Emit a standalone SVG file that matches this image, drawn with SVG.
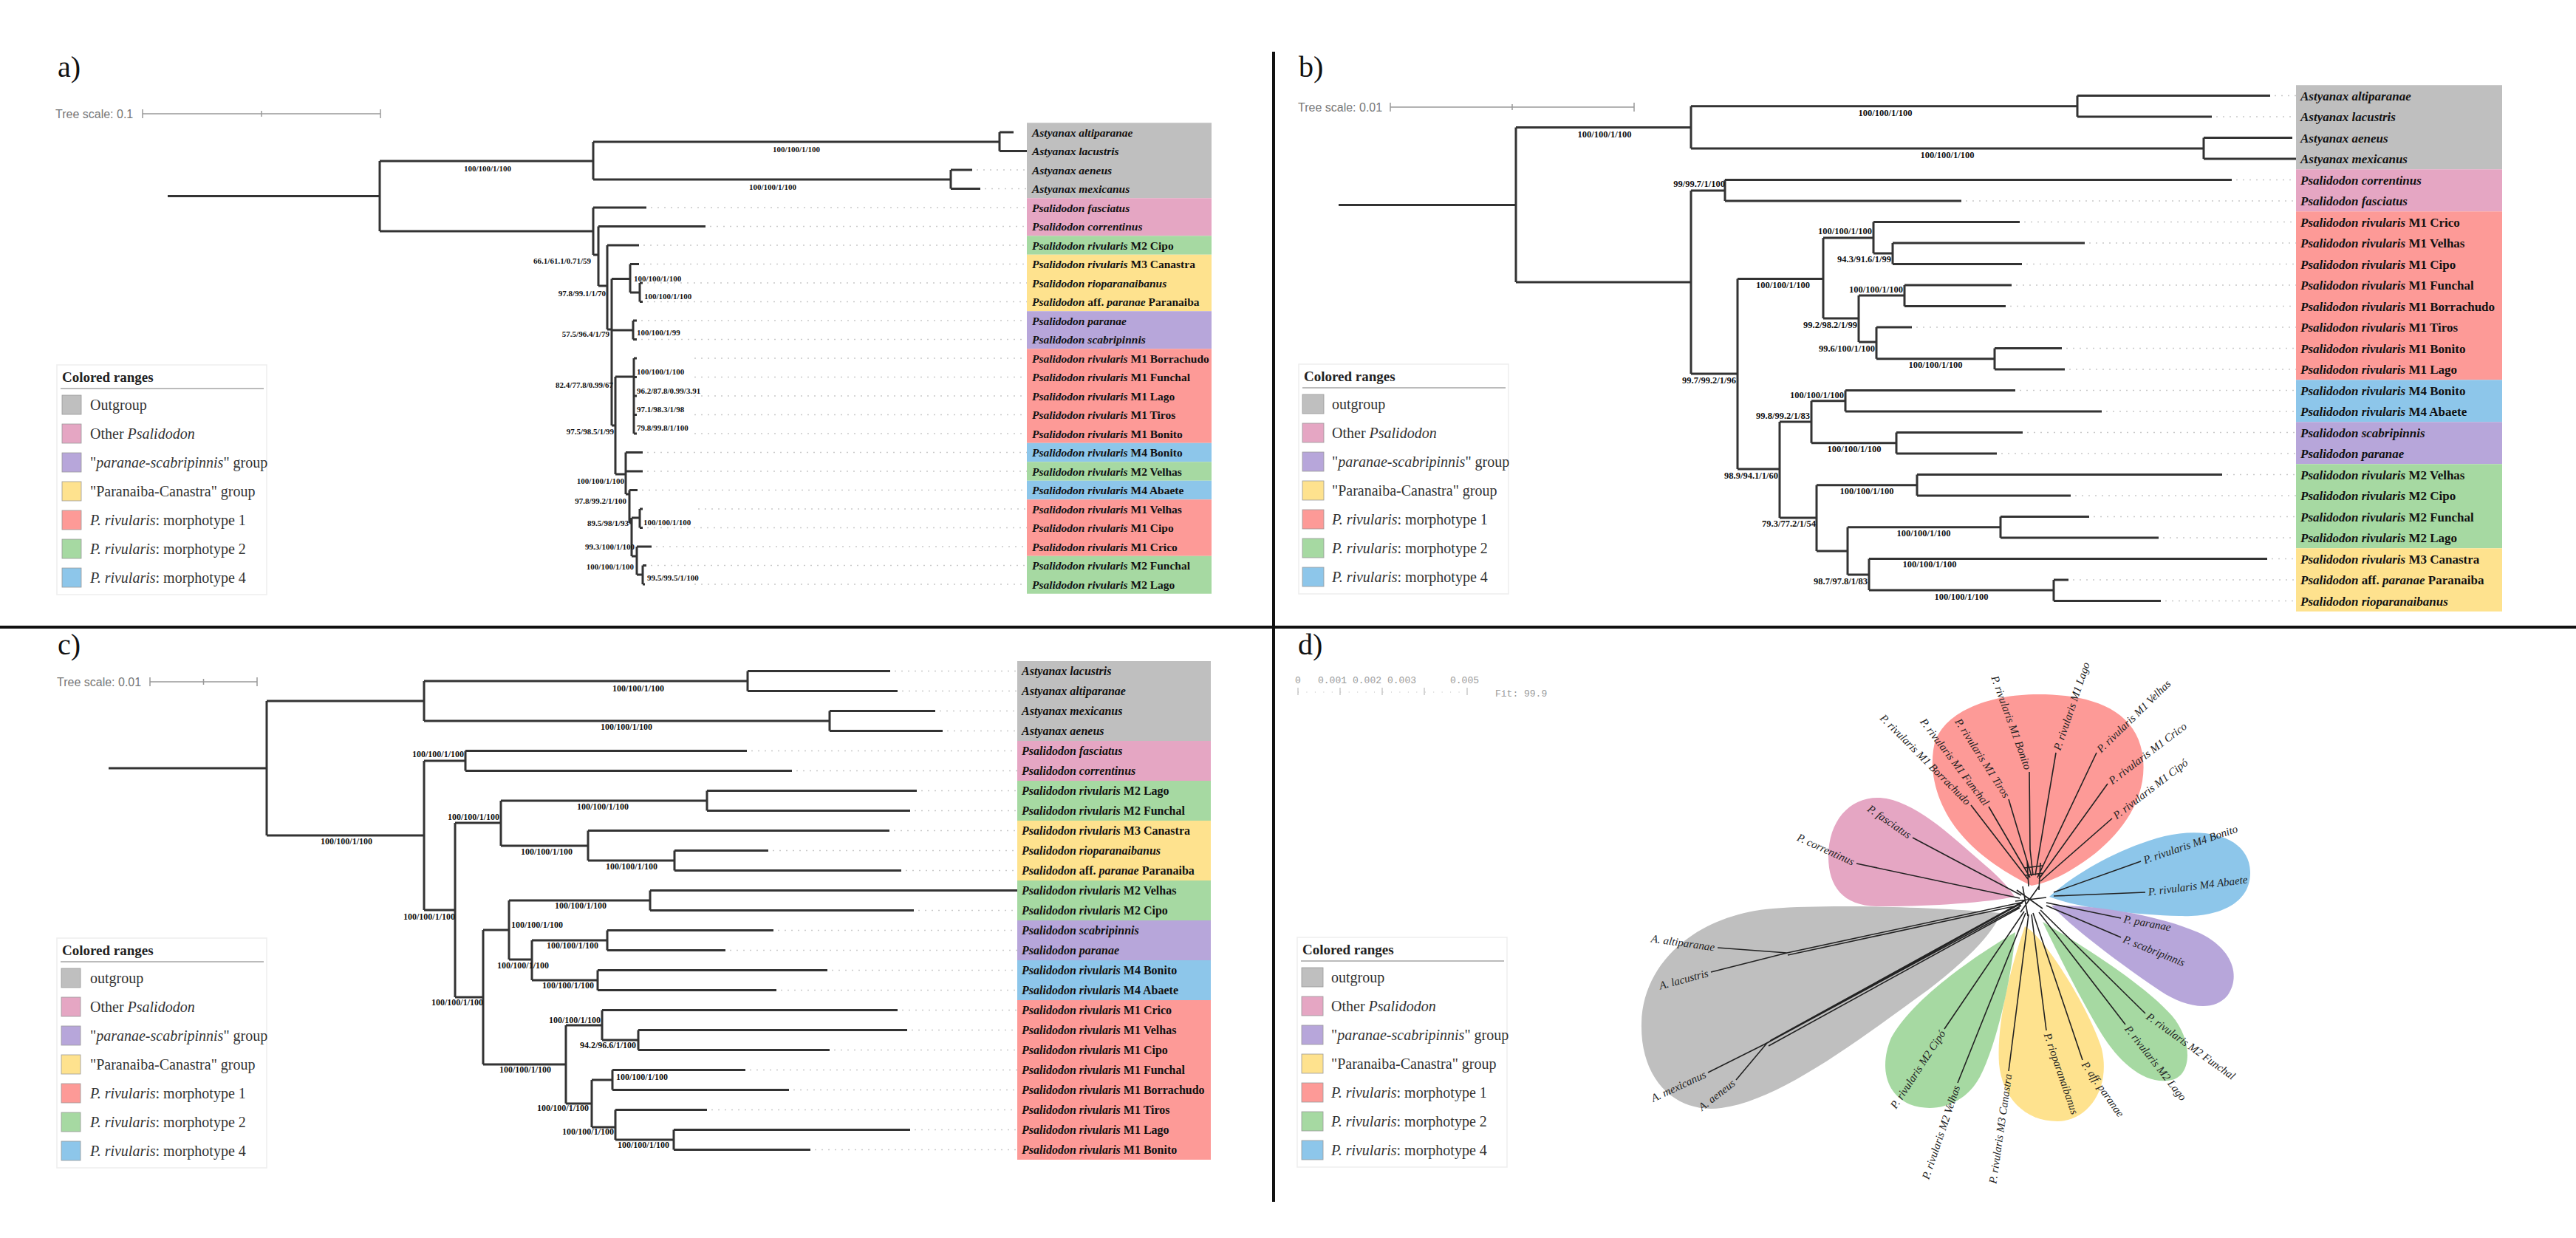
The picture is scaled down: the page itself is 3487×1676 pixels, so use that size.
<svg xmlns="http://www.w3.org/2000/svg" width="3487" height="1676" viewBox="0 0 3487 1676">
<style>
.br{fill:none;stroke:#333;stroke-width:3}
.dt{fill:none;stroke:#c9c9c9;stroke-width:1.5;stroke-dasharray:2 7}
.sp{font-family:"Liberation Serif",serif;font-weight:bold;font-size:11px;fill:#111}
.spb{font-family:"Liberation Serif",serif;font-weight:bold;font-size:12.5px;fill:#111}
.spc{font-family:"Liberation Serif",serif;font-weight:bold;font-size:12px;fill:#111}
.la{font-family:"Liberation Serif",serif;font-weight:bold;font-size:15.5px;fill:#111}
.lb{font-family:"Liberation Serif",serif;font-weight:bold;font-size:17px;fill:#111}
.lc{font-family:"Liberation Serif",serif;font-weight:bold;font-size:16px;fill:#111}
.i{font-style:italic}
.lg{font-family:"Liberation Serif",serif;font-size:20px;fill:#333}
.lgt{font-family:"Liberation Serif",serif;font-weight:bold;font-size:19px;fill:#222}
.lgb{fill:#fff;stroke:#eee;stroke-width:1.5}
.lgl{stroke:#bbb;stroke-width:2}
.sw{stroke:#999;stroke-width:0.8}
.ts{font-family:"Liberation Sans",sans-serif;font-size:16px;fill:#777}
.sb{stroke:#999;stroke-width:1.5;fill:none}
.pl{font-family:"Liberation Serif",serif;font-size:40px;fill:#111}
.dlab{font-family:"Liberation Serif",serif;font-style:italic;font-size:15px;fill:#222}
.dln{stroke:#222;stroke-width:1.6;fill:none}
.mono{font-family:"Liberation Mono",monospace;font-size:13px;fill:#999}
.gy{fill:#bfbfbf}.pk{fill:#e5a6c3}.pu{fill:#b7a6da}.ye{fill:#fee28e}.rd{fill:#fd9a97}.gr{fill:#a6d9a2}.bl{fill:#8dc6ea}
.dv{stroke:#111;stroke-width:4}
</style>

<rect x="0" y="0" width="3487" height="1676" fill="#fff"/>

<!-- ================= PANEL A ================= -->
<g id="panel-a">
<text class="pl" x="78" y="104">a)</text>
<text class="ts" x="75" y="160">Tree scale: 0.1</text>
<path class="sb" d="M193 154H515M193 148V160M354 150V158M515 148V160"/>

<g id="a-ranges">
<rect class="gy" x="1390" y="166.25" width="250" height="102"/>
<rect class="pk" x="1390" y="268.25" width="250" height="51"/>
<rect class="gr" x="1390" y="319.25" width="250" height="25.5"/>
<rect class="ye" x="1390" y="344.75" width="250" height="76.5"/>
<rect class="pu" x="1390" y="421.25" width="250" height="51"/>
<rect class="rd" x="1390" y="472.25" width="250" height="127.5"/>
<rect class="bl" x="1390" y="599.75" width="250" height="25.5"/>
<rect class="gr" x="1390" y="625.25" width="250" height="25.5"/>
<rect class="bl" x="1390" y="650.75" width="250" height="25.5"/>
<rect class="rd" x="1390" y="676.25" width="250" height="76.5"/>
<rect class="gr" x="1390" y="752.75" width="250" height="51"/>
</g>

<g id="a-connectors">
<path class="dt" d="M1322 230H1390M1333 255.5H1390M881 281H1390M961 306.5H1390M871 332H1390M871 357.5H1390M876 383H1390M876 408.5H1390M868 434H1390M868 459.5H1390M940 485H1390M940 510.5H1390M940 536H1390M940 561.5H1390M940 587H1390M876 612.5H1390M876 638H1390M869 663.5H1390M945 689H1390M876 714.5H1390M888 740H1390M881 765.5H1390M940 791H1390"/>
<path class="br" d="M227 265.5H514M514 218V313
M514 218H803M803 192V243M803 192H1353M1353 179V204.5M1353 179H1372M1353 204.5H1390
M803 243H1287M1287 230V255.5M1287 230H1316M1287 255.5H1327
M514 313H803M803 281V345M803 281H875M803 345H810M810 306.5V387M810 306.5H955M810 387H822
M822 332V446M822 332H865M822 446H828M828 377.5V576
M828 377.5H853M853 357.5V396M853 357.5H865M853 396H866M866 383V408.5M866 383H870M866 408.5H870
M828 447H857M857 434V459.5M857 434H862M857 459.5H862
M828 576H833M833 510V642
M833 510H858M858 485V587M858 485H862M858 510.5H862M858 536H862M858 561.5H862M858 587H862
M833 642H847M847 612.5V669M847 612.5H870M847 638H870M847 669H852M852 663.5V708M852 663.5H863M852 708H855
M855 701V753M855 701H866M866 689V714.5M866 689H870M866 714.5H870
M855 753H862M862 740V778M862 740H882M862 778H870M870 765.5V791M870 765.5H875M870 791H873"/>
</g>

<g id="a-support">
<text class="sp" x="660" y="232" text-anchor="middle">100/100/1/100</text>
<text class="sp" x="1078" y="206" text-anchor="middle">100/100/1/100</text>
<text class="sp" x="1046" y="257" text-anchor="middle">100/100/1/100</text>
<text class="sp" x="800" y="357" text-anchor="end">66.1/61.1/0.71/59</text>
<text class="sp" x="820" y="401" text-anchor="end">97.8/99.1/1/70</text>
<text class="sp" x="858" y="381">100/100/1/100</text>
<text class="sp" x="872" y="405">100/100/1/100</text>
<text class="sp" x="825" y="456" text-anchor="end">57.5/96.4/1/79</text>
<text class="sp" x="862" y="454">100/100/1/99</text>
<text class="sp" x="830" y="525" text-anchor="end">82.4/77.8/0.99/67</text>
<text class="sp" x="862" y="507">100/100/1/100</text>
<text class="sp" x="862" y="533">96.2/87.8/0.99/3.91</text>
<text class="sp" x="862" y="558">97.1/98.3/1/98</text>
<text class="sp" x="862" y="583">79.8/99.8/1/100</text>
<text class="sp" x="831" y="588" text-anchor="end">97.5/98.5/1/99</text>
<text class="sp" x="845" y="655" text-anchor="end">100/100/1/100</text>
<text class="sp" x="848" y="682" text-anchor="end">97.8/99.2/1/100</text>
<text class="sp" x="851" y="712" text-anchor="end">89.5/98/1/93</text>
<text class="sp" x="871" y="711">100/100/1/100</text>
<text class="sp" x="859" y="744" text-anchor="end">99.3/100/1/100</text>
<text class="sp" x="858" y="771" text-anchor="end">100/100/1/100</text>
<text class="sp" x="876" y="786">99.5/99.5/1/100</text>
</g>

<g id="a-leaves">
<text class="la" x="1397" y="184.5"><tspan class="i">Astyanax altiparanae</tspan></text>
<text class="la" x="1397" y="210"><tspan class="i">Astyanax lacustris</tspan></text>
<text class="la" x="1397" y="235.5"><tspan class="i">Astyanax aeneus</tspan></text>
<text class="la" x="1397" y="261"><tspan class="i">Astyanax mexicanus</tspan></text>
<text class="la" x="1397" y="286.5"><tspan class="i">Psalidodon fasciatus</tspan></text>
<text class="la" x="1397" y="312"><tspan class="i">Psalidodon correntinus</tspan></text>
<text class="la" x="1397" y="337.5"><tspan class="i">Psalidodon rivularis</tspan> M2 Cipo</text>
<text class="la" x="1397" y="363"><tspan class="i">Psalidodon rivularis</tspan> M3 Canastra</text>
<text class="la" x="1397" y="388.5"><tspan class="i">Psalidodon rioparanaibanus</tspan></text>
<text class="la" x="1397" y="414"><tspan class="i">Psalidodon</tspan> aff. <tspan class="i">paranae</tspan> Paranaiba</text>
<text class="la" x="1397" y="439.5"><tspan class="i">Psalidodon paranae</tspan></text>
<text class="la" x="1397" y="465"><tspan class="i">Psalidodon scabripinnis</tspan></text>
<text class="la" x="1397" y="490.5"><tspan class="i">Psalidodon rivularis</tspan> M1 Borrachudo</text>
<text class="la" x="1397" y="516"><tspan class="i">Psalidodon rivularis</tspan> M1 Funchal</text>
<text class="la" x="1397" y="541.5"><tspan class="i">Psalidodon rivularis</tspan> M1 Lago</text>
<text class="la" x="1397" y="567"><tspan class="i">Psalidodon rivularis</tspan> M1 Tiros</text>
<text class="la" x="1397" y="592.5"><tspan class="i">Psalidodon rivularis</tspan> M1 Bonito</text>
<text class="la" x="1397" y="618"><tspan class="i">Psalidodon rivularis</tspan> M4 Bonito</text>
<text class="la" x="1397" y="643.5"><tspan class="i">Psalidodon rivularis</tspan> M2 Velhas</text>
<text class="la" x="1397" y="669"><tspan class="i">Psalidodon rivularis</tspan> M4 Abaete</text>
<text class="la" x="1397" y="694.5"><tspan class="i">Psalidodon rivularis</tspan> M1 Velhas</text>
<text class="la" x="1397" y="720"><tspan class="i">Psalidodon rivularis</tspan> M1 Cipo</text>
<text class="la" x="1397" y="745.5"><tspan class="i">Psalidodon rivularis</tspan> M1 Crico</text>
<text class="la" x="1397" y="771"><tspan class="i">Psalidodon rivularis</tspan> M2 Funchal</text>
<text class="la" x="1397" y="796.5"><tspan class="i">Psalidodon rivularis</tspan> M2 Lago</text>
</g>

<g id="a-legend" transform="translate(77,494)">
<rect class="lgb" x="0" y="0" width="284" height="311"/>
<text class="lgt" x="7" y="23">Colored ranges</text>
<line class="lgl" x1="5" y1="32" x2="280" y2="32"/>
<rect class="gy sw" x="7" y="41" width="26" height="26"/><text class="lg" x="45" y="61">Outgroup</text>
<rect class="pk sw" x="7" y="80" width="26" height="26"/><text class="lg" x="45" y="100">Other <tspan class="i">Psalidodon</tspan></text>
<rect class="pu sw" x="7" y="119" width="26" height="26"/><text class="lg" x="45" y="139">"<tspan class="i">paranae-scabripinnis</tspan>" group</text>
<rect class="ye sw" x="7" y="158" width="26" height="26"/><text class="lg" x="45" y="178">"Paranaiba-Canastra" group</text>
<rect class="rd sw" x="7" y="197" width="26" height="26"/><text class="lg" x="45" y="217"><tspan class="i">P. rivularis</tspan>: morphotype 1</text>
<rect class="gr sw" x="7" y="236" width="26" height="26"/><text class="lg" x="45" y="256"><tspan class="i">P. rivularis</tspan>: morphotype 2</text>
<rect class="bl sw" x="7" y="275" width="26" height="26"/><text class="lg" x="45" y="295"><tspan class="i">P. rivularis</tspan>: morphotype 4</text>
</g>
</g>

<!-- ================= PANEL B ================= -->
<g id="panel-b">
<text class="pl" x="1758" y="104">b)</text>
<text class="ts" x="1757" y="151">Tree scale: 0.01</text>
<path class="sb" d="M1882 145H2212M1882 139V151M2047 141V149M2212 139V151"/>

<g id="b-ranges">
<rect class="gy" x="3108" y="115.25" width="279" height="114"/>
<rect class="pk" x="3108" y="229.25" width="279" height="57"/>
<rect class="rd" x="3108" y="286.25" width="279" height="228"/>
<rect class="bl" x="3108" y="514.25" width="279" height="57"/>
<rect class="pu" x="3108" y="571.25" width="279" height="57"/>
<rect class="gr" x="3108" y="628.25" width="279" height="114"/>
<rect class="ye" x="3108" y="742.25" width="279" height="85.5"/>
</g>

<g id="b-connectors">
<path class="dt" d="M3079 129.5H3108M3000 158H3108M3027 243.5H3108M2661 272H3108M2740 300.5H3108M2828 329H3108M2743 357.5H3108M2729 386H3108M2721 414.5H3108M2594 443H3108M2797 471.5H3108M2801 500H3108M2734 528.5H3108M2851 557H3108M2744 585.5H3108M2709 614H3108M3014 642.5H3108M2809 671H3108M2834 699.5H3108M2928 728H3108M3075 756.5H3108M2806 785H3108M2931 813.5H3108"/>
<path class="br" d="M1812 277.5H2052M2052 172.5V382
M2052 172.5H2289M2289 143.8V201M2289 143.8H2812M2812 129.5V158M2812 129.5H3073M2812 158H2994
M2289 201H2983M2983 186.5V215M2983 186.5H3103M2983 215H3108
M2052 382H2289M2289 258V506
M2289 258H2335M2335 243.5V272M2335 243.5H3021M2335 272H2655
M2289 506H2352M2352 377.6V635
M2352 377.6H2468M2468 322V431
M2468 322H2536M2536 300.5V343M2536 300.5H2734M2536 343H2562M2562 329V357.5M2562 329H2822M2562 357.5H2737
M2468 431H2516M2516 400V463
M2516 400H2578M2578 386V414.5M2578 386H2723M2578 414.5H2715
M2516 463H2540M2540 443V485.75M2540 443H2588M2540 485.75H2700M2700 471.5V500M2700 471.5H2791M2700 500H2795
M2352 635H2409M2409 571V701
M2409 571H2452M2452 542.75V599.75
M2452 542.75H2498M2498 528.5V557M2498 528.5H2728M2498 557H2845
M2452 599.75H2567M2567 585.5V614M2567 585.5H2738M2567 614H2703
M2409 701H2459M2459 656.75V746
M2459 656.75H2595M2595 642.5V671M2595 642.5H3008M2595 671H2803
M2459 746H2501M2501 713.75V778
M2501 713.75H2708M2708 699.5V728M2708 699.5H2828M2708 728H2922
M2501 778H2530M2530 756.5V799M2530 756.5H3069M2530 799H2780M2780 785V813.5M2780 785H2800M2780 813.5H2925"/>
</g>

<g id="b-support">
<text class="spb" x="2172" y="186" text-anchor="middle">100/100/1/100</text>
<text class="spb" x="2552" y="157" text-anchor="middle">100/100/1/100</text>
<text class="spb" x="2636" y="214" text-anchor="middle">100/100/1/100</text>
<text class="spb" x="2335" y="253" text-anchor="end">99/99.7/1/100</text>
<text class="spb" x="2350" y="519" text-anchor="end">99.7/99.2/1/96</text>
<text class="spb" x="2450" y="390" text-anchor="end">100/100/1/100</text>
<text class="spb" x="2534" y="317" text-anchor="end">100/100/1/100</text>
<text class="spb" x="2560" y="355" text-anchor="end">94.3/91.6/1/99</text>
<text class="spb" x="2514" y="444" text-anchor="end">99.2/98.2/1/99</text>
<text class="spb" x="2576" y="396" text-anchor="end">100/100/1/100</text>
<text class="spb" x="2538" y="476" text-anchor="end">99.6/100/1/100</text>
<text class="spb" x="2620" y="498" text-anchor="middle">100/100/1/100</text>
<text class="spb" x="2407" y="648" text-anchor="end">98.9/94.1/1/60</text>
<text class="spb" x="2450" y="567" text-anchor="end">99.8/99.2/1/83</text>
<text class="spb" x="2496" y="539" text-anchor="end">100/100/1/100</text>
<text class="spb" x="2510" y="612" text-anchor="middle">100/100/1/100</text>
<text class="spb" x="2458" y="713" text-anchor="end">79.3/77.2/1/54</text>
<text class="spb" x="2527" y="669" text-anchor="middle">100/100/1/100</text>
<text class="spb" x="2604" y="726" text-anchor="middle">100/100/1/100</text>
<text class="spb" x="2528" y="791" text-anchor="end">98.7/97.8/1/83</text>
<text class="spb" x="2655" y="812" text-anchor="middle">100/100/1/100</text>
<text class="spb" x="2612" y="768" text-anchor="middle">100/100/1/100</text>
</g>

<g id="b-leaves">
<text class="lb" x="3114" y="135.5"><tspan class="i">Astyanax altiparanae</tspan></text>
<text class="lb" x="3114" y="164"><tspan class="i">Astyanax lacustris</tspan></text>
<text class="lb" x="3114" y="192.5"><tspan class="i">Astyanax aeneus</tspan></text>
<text class="lb" x="3114" y="221"><tspan class="i">Astyanax mexicanus</tspan></text>
<text class="lb" x="3114" y="249.5"><tspan class="i">Psalidodon correntinus</tspan></text>
<text class="lb" x="3114" y="278"><tspan class="i">Psalidodon fasciatus</tspan></text>
<text class="lb" x="3114" y="306.5"><tspan class="i">Psalidodon rivularis</tspan> M1 Crico</text>
<text class="lb" x="3114" y="335"><tspan class="i">Psalidodon rivularis</tspan> M1 Velhas</text>
<text class="lb" x="3114" y="363.5"><tspan class="i">Psalidodon rivularis</tspan> M1 Cipo</text>
<text class="lb" x="3114" y="392"><tspan class="i">Psalidodon rivularis</tspan> M1 Funchal</text>
<text class="lb" x="3114" y="420.5"><tspan class="i">Psalidodon rivularis</tspan> M1 Borrachudo</text>
<text class="lb" x="3114" y="449"><tspan class="i">Psalidodon rivularis</tspan> M1 Tiros</text>
<text class="lb" x="3114" y="477.5"><tspan class="i">Psalidodon rivularis</tspan> M1 Bonito</text>
<text class="lb" x="3114" y="506"><tspan class="i">Psalidodon rivularis</tspan> M1 Lago</text>
<text class="lb" x="3114" y="534.5"><tspan class="i">Psalidodon rivularis</tspan> M4 Bonito</text>
<text class="lb" x="3114" y="563"><tspan class="i">Psalidodon rivularis</tspan> M4 Abaete</text>
<text class="lb" x="3114" y="591.5"><tspan class="i">Psalidodon scabripinnis</tspan></text>
<text class="lb" x="3114" y="620"><tspan class="i">Psalidodon paranae</tspan></text>
<text class="lb" x="3114" y="648.5"><tspan class="i">Psalidodon rivularis</tspan> M2 Velhas</text>
<text class="lb" x="3114" y="677"><tspan class="i">Psalidodon rivularis</tspan> M2 Cipo</text>
<text class="lb" x="3114" y="705.5"><tspan class="i">Psalidodon rivularis</tspan> M2 Funchal</text>
<text class="lb" x="3114" y="734"><tspan class="i">Psalidodon rivularis</tspan> M2 Lago</text>
<text class="lb" x="3114" y="762.5"><tspan class="i">Psalidodon rivularis</tspan> M3 Canastra</text>
<text class="lb" x="3114" y="791"><tspan class="i">Psalidodon</tspan> aff. <tspan class="i">paranae</tspan> Paranaiba</text>
<text class="lb" x="3114" y="819.5"><tspan class="i">Psalidodon rioparanaibanus</tspan></text>
</g>

<g id="b-legend" transform="translate(1758,493)">
<rect class="lgb" x="0" y="0" width="284" height="311"/>
<text class="lgt" x="7" y="23">Colored ranges</text>
<line class="lgl" x1="5" y1="32" x2="280" y2="32"/>
<rect class="gy sw" x="5" y="41" width="29" height="26"/><text class="lg" x="45" y="61">outgroup</text>
<rect class="pk sw" x="5" y="80" width="29" height="26"/><text class="lg" x="45" y="100">Other <tspan class="i">Psalidodon</tspan></text>
<rect class="pu sw" x="5" y="119" width="29" height="26"/><text class="lg" x="45" y="139">"<tspan class="i">paranae-scabripinnis</tspan>" group</text>
<rect class="ye sw" x="5" y="158" width="29" height="26"/><text class="lg" x="45" y="178">"Paranaiba-Canastra" group</text>
<rect class="rd sw" x="5" y="197" width="29" height="26"/><text class="lg" x="45" y="217"><tspan class="i">P. rivularis</tspan>: morphotype 1</text>
<rect class="gr sw" x="5" y="236" width="29" height="26"/><text class="lg" x="45" y="256"><tspan class="i">P. rivularis</tspan>: morphotype 2</text>
<rect class="bl sw" x="5" y="275" width="29" height="26"/><text class="lg" x="45" y="295"><tspan class="i">P. rivularis</tspan>: morphotype 4</text>
</g>
</g>

<!-- ================= PANEL C ================= -->
<g id="panel-c">
<text class="pl" x="78" y="886">c)</text>
<text class="ts" x="77" y="929">Tree scale: 0.01</text>
<path class="sb" d="M203 923H348M203 917V929M275.5 919V927M348 917V929"/>

<g id="c-ranges">
<rect class="gy" x="1377" y="895" width="262" height="108"/>
<rect class="pk" x="1377" y="1003" width="262" height="54"/>
<rect class="gr" x="1377" y="1057" width="262" height="54"/>
<rect class="ye" x="1377" y="1111" width="262" height="81"/>
<rect class="gr" x="1377" y="1192" width="262" height="54"/>
<rect class="pu" x="1377" y="1246" width="262" height="54"/>
<rect class="bl" x="1377" y="1300" width="262" height="54"/>
<rect class="rd" x="1377" y="1354" width="262" height="216"/>
</g>

<g id="c-connectors">
<path class="dt" d="M1211 908.5H1377M1221 935.5H1377M1272 962.5H1377M1282 989.5H1377M1017 1016.5H1377M1078 1043.5H1377M1247 1070.5H1377M1238 1097.5H1377M1210 1124.5H1377M1046 1151.5H1377M1226 1178.5H1377M1243 1232.5H1377M1053 1259.5H1377M988 1286.5H1377M1126 1313.5H1377M1057 1340.5H1377M1221 1367.5H1377M1234 1394.5H1377M1129 1421.5H1377M1015 1448.5H1377M1074 1475.5H1377M963 1502.5H1377M1238 1529.5H1377M1103 1556.5H1377"/>
<path class="br" d="M147 1040H361M361 949V1131
M361 949H574M574 922V976M574 922H1012M1012 908.5V935.5M1012 908.5H1205M1012 935.5H1215
M574 976H1123M1123 962.5V989.5M1123 962.5H1266M1123 989.5H1276
M361 1131H574M574 1030V1232
M574 1030H630M630 1016.5V1043.5M630 1016.5H1011M630 1043.5H1072
M574 1232H616M616 1114V1350
M616 1114H678M678 1084V1145
M678 1084H957M957 1070.5V1097.5M957 1070.5H1241M957 1097.5H1232
M678 1145H796M796 1124.5V1165M796 1124.5H1204M796 1165H913M913 1151.5V1178.5M913 1151.5H1040M913 1178.5H1220
M616 1350H654M654 1259V1441
M654 1259H689M689 1219V1299
M689 1219H880M880 1205.5V1232.5M880 1205.5H1377M880 1232.5H1237
M689 1299H720M720 1273V1327
M720 1273H822M822 1259.5V1286.5M822 1259.5H1047M822 1286.5H982
M720 1327H809M809 1313.5V1340.5M809 1313.5H1120M809 1340.5H1051
M654 1441H766M766 1388V1494
M766 1388H815M815 1367.5V1408M815 1367.5H1215M815 1408H864M864 1394.5V1421.5M864 1394.5H1228M864 1421.5H1123
M766 1494H801M801 1462V1526
M801 1462H829M829 1448.5V1475.5M829 1448.5H1009M829 1475.5H1068
M801 1526H833M833 1502.5V1543M833 1502.5H957M833 1543H912M912 1529.5V1556.5M912 1529.5H1232M912 1556.5H1097"/>
</g>

<g id="c-support">
<text class="spc" x="864" y="936" text-anchor="middle">100/100/1/100</text>
<text class="spc" x="848" y="988" text-anchor="middle">100/100/1/100</text>
<text class="spc" x="469" y="1143" text-anchor="middle">100/100/1/100</text>
<text class="spc" x="628" y="1025" text-anchor="end">100/100/1/100</text>
<text class="spc" x="616" y="1245" text-anchor="end">100/100/1/100</text>
<text class="spc" x="676" y="1110" text-anchor="end">100/100/1/100</text>
<text class="spc" x="816" y="1096" text-anchor="middle">100/100/1/100</text>
<text class="spc" x="775" y="1157" text-anchor="end">100/100/1/100</text>
<text class="spc" x="855" y="1177" text-anchor="middle">100/100/1/100</text>
<text class="spc" x="654" y="1361" text-anchor="end">100/100/1/100</text>
<text class="spc" x="692" y="1256">100/100/1/100</text>
<text class="spc" x="786" y="1230" text-anchor="middle">100/100/1/100</text>
<text class="spc" x="743" y="1311" text-anchor="end">100/100/1/100</text>
<text class="spc" x="810" y="1284" text-anchor="end">100/100/1/100</text>
<text class="spc" x="804" y="1338" text-anchor="end">100/100/1/100</text>
<text class="spc" x="746" y="1452" text-anchor="end">100/100/1/100</text>
<text class="spc" x="813" y="1385" text-anchor="end">100/100/1/100</text>
<text class="spc" x="861" y="1419" text-anchor="end">94.2/96.6/1/100</text>
<text class="spc" x="797" y="1504" text-anchor="end">100/100/1/100</text>
<text class="spc" x="834" y="1462">100/100/1/100</text>
<text class="spc" x="831" y="1536" text-anchor="end">100/100/1/100</text>
<text class="spc" x="836" y="1554">100/100/1/100</text>
</g>

<g id="c-leaves">
<text class="lc" x="1383" y="914"><tspan class="i">Astyanax lacustris</tspan></text>
<text class="lc" x="1383" y="941"><tspan class="i">Astyanax altiparanae</tspan></text>
<text class="lc" x="1383" y="968"><tspan class="i">Astyanax mexicanus</tspan></text>
<text class="lc" x="1383" y="995"><tspan class="i">Astyanax aeneus</tspan></text>
<text class="lc" x="1383" y="1022"><tspan class="i">Psalidodon fasciatus</tspan></text>
<text class="lc" x="1383" y="1049"><tspan class="i">Psalidodon correntinus</tspan></text>
<text class="lc" x="1383" y="1076"><tspan class="i">Psalidodon rivularis</tspan> M2 Lago</text>
<text class="lc" x="1383" y="1103"><tspan class="i">Psalidodon rivularis</tspan> M2 Funchal</text>
<text class="lc" x="1383" y="1130"><tspan class="i">Psalidodon rivularis</tspan> M3 Canastra</text>
<text class="lc" x="1383" y="1157"><tspan class="i">Psalidodon rioparanaibanus</tspan></text>
<text class="lc" x="1383" y="1184"><tspan class="i">Psalidodon</tspan> aff. <tspan class="i">paranae</tspan> Paranaiba</text>
<text class="lc" x="1383" y="1211"><tspan class="i">Psalidodon rivularis</tspan> M2 Velhas</text>
<text class="lc" x="1383" y="1238"><tspan class="i">Psalidodon rivularis</tspan> M2 Cipo</text>
<text class="lc" x="1383" y="1265"><tspan class="i">Psalidodon scabripinnis</tspan></text>
<text class="lc" x="1383" y="1292"><tspan class="i">Psalidodon paranae</tspan></text>
<text class="lc" x="1383" y="1319"><tspan class="i">Psalidodon rivularis</tspan> M4 Bonito</text>
<text class="lc" x="1383" y="1346"><tspan class="i">Psalidodon rivularis</tspan> M4 Abaete</text>
<text class="lc" x="1383" y="1373"><tspan class="i">Psalidodon rivularis</tspan> M1 Crico</text>
<text class="lc" x="1383" y="1400"><tspan class="i">Psalidodon rivularis</tspan> M1 Velhas</text>
<text class="lc" x="1383" y="1427"><tspan class="i">Psalidodon rivularis</tspan> M1 Cipo</text>
<text class="lc" x="1383" y="1454"><tspan class="i">Psalidodon rivularis</tspan> M1 Funchal</text>
<text class="lc" x="1383" y="1481"><tspan class="i">Psalidodon rivularis</tspan> M1 Borrachudo</text>
<text class="lc" x="1383" y="1508"><tspan class="i">Psalidodon rivularis</tspan> M1 Tiros</text>
<text class="lc" x="1383" y="1535"><tspan class="i">Psalidodon rivularis</tspan> M1 Lago</text>
<text class="lc" x="1383" y="1562"><tspan class="i">Psalidodon rivularis</tspan> M1 Bonito</text>
</g>

<g id="c-legend" transform="translate(77,1270)">
<rect class="lgb" x="0" y="0" width="284" height="311"/>
<text class="lgt" x="7" y="23">Colored ranges</text>
<line class="lgl" x1="5" y1="32" x2="280" y2="32"/>
<rect class="gy sw" x="6" y="41" width="26" height="26"/><text class="lg" x="45" y="61">outgroup</text>
<rect class="pk sw" x="6" y="80" width="26" height="26"/><text class="lg" x="45" y="100">Other <tspan class="i">Psalidodon</tspan></text>
<rect class="pu sw" x="6" y="119" width="26" height="26"/><text class="lg" x="45" y="139">"<tspan class="i">paranae-scabripinnis</tspan>" group</text>
<rect class="ye sw" x="6" y="158" width="26" height="26"/><text class="lg" x="45" y="178">"Paranaiba-Canastra" group</text>
<rect class="rd sw" x="6" y="197" width="26" height="26"/><text class="lg" x="45" y="217"><tspan class="i">P. rivularis</tspan>: morphotype 1</text>
<rect class="gr sw" x="6" y="236" width="26" height="26"/><text class="lg" x="45" y="256"><tspan class="i">P. rivularis</tspan>: morphotype 2</text>
<rect class="bl sw" x="6" y="275" width="26" height="26"/><text class="lg" x="45" y="295"><tspan class="i">P. rivularis</tspan>: morphotype 4</text>
</g>
</g>

<!-- ================= PANEL D ================= -->
<g id="panel-d">
<text class="pl" x="1757" y="886">d)</text>
<g id="d-scale">
<text class="mono" x="1753" y="925">0</text>
<text class="mono" x="1784" y="925">0.001</text>
<text class="mono" x="1831" y="925">0.002</text>
<text class="mono" x="1878" y="925">0.003</text>
<text class="mono" x="1963" y="925">0.005</text>
<path stroke="#bbb" stroke-width="1.2" fill="none" d="M1757 937H1986" stroke-dasharray="1 10.45"/>
<path stroke="#bbb" stroke-width="1.2" fill="none" d="M1757 931V941M1814 931V941M1871 931V941M1928 931V941M1986 931V941"/>
<text class="mono" x="2024" y="943" font-size="15.5">Fit: 99.9</text>
</g>

<g id="d-petals">
<path class="gy" d="M2708 1236C2620 1228 2480 1224 2400 1230C2300 1238 2224 1300 2222 1385C2220 1462 2268 1508 2330 1500C2410 1490 2520 1405 2610 1340C2660 1302 2700 1262 2708 1236Z"/>
<path class="pk" d="M2727 1214C2690 1222 2600 1228 2540 1227C2495 1226 2475 1200 2475 1160C2475 1110 2505 1078 2545 1080C2590 1083 2640 1130 2680 1165C2705 1186 2720 1202 2727 1214Z"/>
<path class="rd" d="M2750 1199C2720 1185 2680 1160 2655 1130C2625 1095 2610 1050 2618 1010C2628 965 2690 940 2759 940C2830 940 2890 960 2900 1020C2910 1080 2870 1130 2830 1160C2800 1182 2775 1195 2750 1199Z"/>
<path class="bl" d="M2774 1214C2800 1190 2860 1150 2930 1132C2990 1118 3045 1135 3046 1180C3047 1225 3000 1242 2950 1240C2880 1238 2810 1228 2774 1214Z"/>
<path class="pu" d="M2777 1226C2830 1224 2920 1238 2975 1262C3020 1282 3035 1320 3015 1348C2995 1372 2955 1362 2925 1342C2870 1305 2810 1260 2777 1226Z"/>
<path class="gr" d="M2765 1248C2810 1275 2900 1330 2940 1375C2968 1408 2968 1455 2940 1462C2905 1470 2870 1440 2845 1400C2815 1350 2785 1290 2765 1248Z"/>
<path class="ye" d="M2741 1254C2770 1270 2830 1370 2845 1420C2858 1475 2825 1518 2785 1518C2740 1518 2710 1485 2706 1440C2702 1380 2725 1300 2741 1254Z"/>
<path class="gr" d="M2728 1262C2725 1310 2705 1410 2680 1458C2660 1495 2620 1508 2585 1495C2550 1480 2545 1440 2560 1405C2590 1350 2680 1290 2728 1262Z"/>
</g>

<g id="d-edges">
<path class="dln" d="M2668 1090L2745 1190M2692 1092L2748 1188M2719 1082L2750 1186M2747 1045L2748 1150L2752 1185M2783 1019L2755 1185M2838 1019L2758 1188M2853 1061L2760 1190M2859 1108L2762 1193
M2740 1175L2765 1172M2742 1185L2766 1182M2744 1165L2746 1200M2762 1168L2760 1205
M2898 1166L2780 1208M2904 1208L2780 1213
M2871 1243L2770 1222M2871 1269L2770 1226
M2904 1372L2762 1232M2877 1387L2760 1235
M2819 1435L2752 1236M2770 1395L2750 1238M2719 1450L2746 1238
M2650 1466L2742 1236M2632 1393L2740 1234
M2589 1134L2736 1212M2513 1169L2734 1216
M2738 1222L2392 1412M2736 1226L2388 1414M2741 1219L2396 1409M2734 1229L2394 1416M2392 1412L2312 1452M2392 1412L2350 1462
M2735 1222L2419 1290M2735 1225L2420 1293M2419 1290L2325 1283M2419 1290L2316 1316
M2730 1205L2765 1230M2735 1235L2760 1200M2728 1220L2770 1215M2738 1200L2745 1240"/>
</g>

<g id="d-labels">
<text class="dlab" x="2783" y="1019" dx="4" dy="5" transform="rotate(-71.3 2783 1019)">P. rivularis M1 Lago</text>
<text class="dlab" x="2838" y="1019" dx="4" dy="5" transform="rotate(-44.4 2838 1019)">P. rivularis M1 Velhas</text>
<text class="dlab" x="2853" y="1061" dx="4" dy="5" transform="rotate(-37.2 2853 1061)">P. rivularis M1 Crico</text>
<text class="dlab" x="2859" y="1108" dx="4" dy="5" transform="rotate(-37.6 2859 1108)">P. rivularis M1 Cipó</text>
<text class="dlab" x="2898" y="1166" dx="4" dy="5" transform="rotate(-18.9 2898 1166)">P. rivularis M4 Bonito</text>
<text class="dlab" x="2904" y="1208" dx="4" dy="5" transform="rotate(-7.2 2904 1208)">P. rivularis M4 Abaete</text>
<text class="dlab" x="2871" y="1243" dx="4" dy="5" transform="rotate(10.5 2871 1243)">P. paranae</text>
<text class="dlab" x="2871" y="1269" dx="4" dy="5" transform="rotate(22 2871 1269)">P. scabripinnis</text>
<text class="dlab" x="2904" y="1372" dx="4" dy="5" transform="rotate(35.7 2904 1372)">P. rivularis M2 Funchal</text>
<text class="dlab" x="2877" y="1387" dx="4" dy="5" transform="rotate(51.8 2877 1387)">P. rivularis M2 Lago</text>
<text class="dlab" x="2819" y="1435" dx="4" dy="5" transform="rotate(55 2819 1435)">P. aff. paranae</text>
<text class="dlab" x="2770" y="1395" dx="4" dy="5" transform="rotate(71 2770 1395)">P. rioparanaibanus</text>
<text class="dlab" x="2668" y="1090" dx="-4" dy="5" text-anchor="end" transform="rotate(45 2668 1090)">P. rivularis M1 Borrachudo</text>
<text class="dlab" x="2692" y="1092" dx="-4" dy="5" text-anchor="end" transform="rotate(52.8 2692 1092)">P. rivularis M1 Funchal</text>
<text class="dlab" x="2719" y="1082" dx="-4" dy="5" text-anchor="end" transform="rotate(57.4 2719 1082)">P. rivularis M1 Tiros</text>
<text class="dlab" x="2747" y="1045" dx="-4" dy="5" text-anchor="end" transform="rotate(70 2747 1045)">P. rivularis M1 Bonito</text>
<text class="dlab" x="2589" y="1134" dx="-4" dy="5" text-anchor="end" transform="rotate(34.5 2589 1134)">P. fasciatus</text>
<text class="dlab" x="2513" y="1169" dx="-4" dy="5" text-anchor="end" transform="rotate(24.5 2513 1169)">P. correntinus</text>
<text class="dlab" x="2719" y="1450" dx="-4" dy="5" text-anchor="end" transform="rotate(-81.9 2719 1450)">P. rivularis M3 Canastra</text>
<text class="dlab" x="2650" y="1466" dx="-4" dy="5" text-anchor="end" transform="rotate(-71.4 2650 1466)">P. rivularis M2 Velhas</text>
<text class="dlab" x="2632" y="1393" dx="-4" dy="5" text-anchor="end" transform="rotate(-56.8 2632 1393)">P. rivularis M2 Cipó</text>
<text class="dlab" x="2325" y="1283" dx="-4" dy="5" text-anchor="end" transform="rotate(8 2325 1283)">A. altiparanae</text>
<text class="dlab" x="2316" y="1316" dx="-4" dy="5" text-anchor="end" transform="rotate(-15 2316 1316)">A. lacustris</text>
<text class="dlab" x="2312" y="1452" dx="-4" dy="5" text-anchor="end" transform="rotate(-25 2312 1452)">A. mexicanus</text>
<text class="dlab" x="2350" y="1462" dx="-4" dy="5" text-anchor="end" transform="rotate(-38 2350 1462)">A. aeneus</text>
</g>

<g id="d-legend" transform="translate(1756,1269)">
<rect class="lgb" x="0" y="0" width="284" height="311"/>
<text class="lgt" x="7" y="23">Colored ranges</text>
<line class="lgl" x1="5" y1="32" x2="280" y2="32"/>
<rect class="gy sw" x="6" y="41" width="29" height="26"/><text class="lg" x="46" y="61">outgroup</text>
<rect class="pk sw" x="6" y="80" width="29" height="26"/><text class="lg" x="46" y="100">Other <tspan class="i">Psalidodon</tspan></text>
<rect class="pu sw" x="6" y="119" width="29" height="26"/><text class="lg" x="46" y="139">"<tspan class="i">paranae-scabripinnis</tspan>" group</text>
<rect class="ye sw" x="6" y="158" width="29" height="26"/><text class="lg" x="46" y="178">"Paranaiba-Canastra" group</text>
<rect class="rd sw" x="6" y="197" width="29" height="26"/><text class="lg" x="46" y="217"><tspan class="i">P. rivularis</tspan>: morphotype 1</text>
<rect class="gr sw" x="6" y="236" width="29" height="26"/><text class="lg" x="46" y="256"><tspan class="i">P. rivularis</tspan>: morphotype 2</text>
<rect class="bl sw" x="6" y="275" width="29" height="26"/><text class="lg" x="46" y="295"><tspan class="i">P. rivularis</tspan>: morphotype 4</text>
</g>
</g>

<g id="dividers">
<line class="dv" x1="1724" y1="70" x2="1724" y2="1627"/>
<line class="dv" x1="0" y1="849" x2="3487" y2="849"/>
</g>
</svg>
